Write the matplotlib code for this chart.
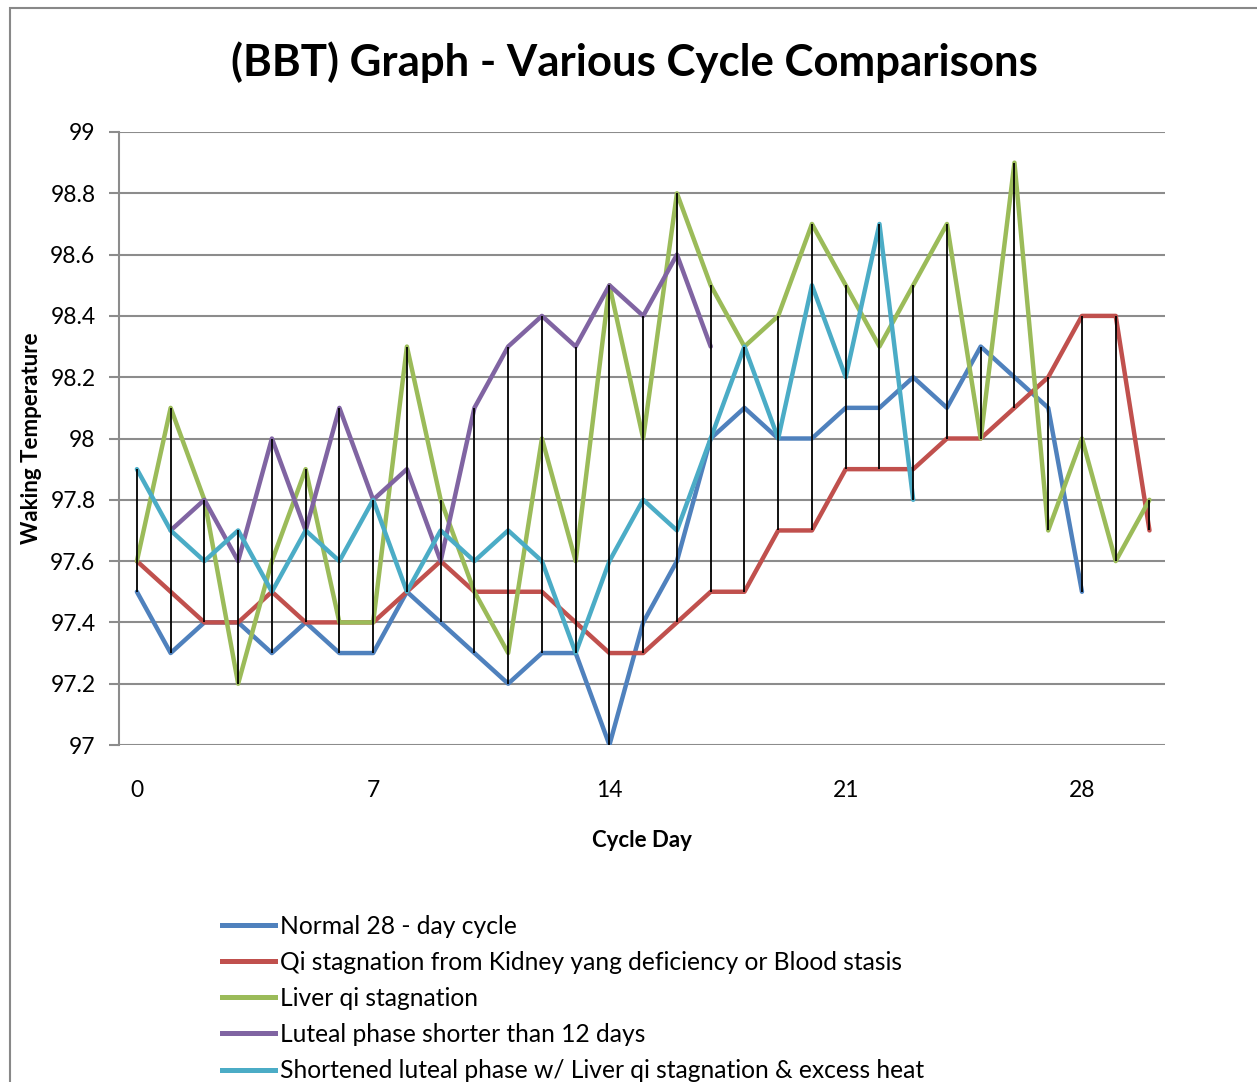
import numpy as np
import matplotlib
matplotlib.use("Agg")
import matplotlib.pyplot as plt
from matplotlib.lines import Line2D
from matplotlib.patches import Rectangle

plt.rcParams['font.family'] = ['Lato', 'DejaVu Sans']

days = list(range(31))
N = None
normal = [97.5, 97.3, 97.4, 97.4, 97.3, 97.4, 97.3, 97.3, 97.5, 97.4,
          97.3, 97.2, 97.3, 97.3, 97.0, 97.4, 97.6, 98.0, 98.1, 98.0,
          98.0, 98.1, 98.1, 98.2, 98.1, 98.3, 98.2, 98.1, 97.5, N, N]
kidney = [97.6, 97.5, 97.4, 97.4, 97.5, 97.4, 97.4, 97.4, 97.5, 97.6,
          97.5, 97.5, 97.5, 97.4, 97.3, 97.3, 97.4, 97.5, 97.5, 97.7,
          97.7, 97.9, 97.9, 97.9, 98.0, 98.0, 98.1, 98.2, 98.4, 98.4, 97.7]
liver = [97.6, 98.1, 97.8, 97.2, 97.6, 97.9, 97.4, 97.4, 98.3, 97.8,
         97.5, 97.3, 98.0, 97.6, 98.5, 98.0, 98.8, 98.5, 98.3, 98.4,
         98.7, 98.5, 98.3, 98.5, 98.7, 98.0, 98.9, 97.7, 98.0, 97.6, 97.8]
luteal = [N, 97.7, 97.8, 97.6, 98.0, 97.7, 98.1, 97.8, 97.9, 97.6,
          98.1, 98.3, 98.4, 98.3, 98.5, 98.4, 98.6, 98.3, N, N,
          N, N, N, N, N, N, N, N, N, N, N]
short_heat = [97.9, 97.7, 97.6, 97.7, 97.5, 97.7, 97.6, 97.8, 97.5, 97.7,
              97.6, 97.7, 97.6, 97.3, 97.6, 97.8, 97.7, 98.0, 98.3, 98.0,
              98.5, 98.2, 98.7, 97.8, N, N, N, N, N, N, N]

labels = ["Normal 28 - day cycle",
          "Qi stagnation from Kidney yang deficiency or Blood stasis",
          "Liver qi stagnation",
          "Luteal phase shorter than 12 days",
          "Shortened luteal phase w/ Liver qi stagnation & excess heat"]
colors = ["#4F81BD", "#C0504D", "#9BBB59", "#8064A2", "#4BACC6"]
series = [normal, kidney, liver, luteal, short_heat]

xticks = [0, 7, 14, 21, 28]
yticks = [97, 97.2, 97.4, 97.6, 97.8, 98, 98.2, 98.4, 98.6, 98.8, 99]
ytick_labels = ["97", "97.2", "97.4", "97.6", "97.8", "98", "98.2", "98.4", "98.6", "98.8", "99"]

fig = plt.figure(figsize=(12.57, 10.82), dpi=100)
fig.patches.append(Rectangle((10/1257, -0.01), 1.2, 1 - 8/1082 + 0.01,
                             transform=fig.transFigure, fill=False,
                             edgecolor="#888888", linewidth=1.5))
ax = fig.add_axes([119/1257, 1 - 745/1082, (1165 - 119)/1257, (745 - 132)/1082])

arr = np.array([[np.nan if v is None else v for v in s] for s in series], dtype=float)
x = np.array(days)
for s, c in zip(arr, colors):
    ax.plot(x, s, color=c, lw=3.2, solid_joinstyle='round', solid_capstyle='round', zorder=3)

hi = np.nanmax(arr, axis=0)
lo = np.nanmin(arr, axis=0)
ax.vlines(x, lo, hi, color="black", lw=1.3, zorder=4)

ax.set_xlim(-0.53, 30.46)
ax.set_ylim(97, 99)
ax.set_xticks(xticks)
ax.set_yticks(yticks)
ax.set_yticklabels(ytick_labels)
ax.grid(axis='y', color="#8c8c8c", lw=1.5, zorder=0)
ax.set_axisbelow(True)
for sp in ["top", "right", "bottom"]:
    ax.spines[sp].set_visible(False)
ax.spines["left"].set_color("#8c8c8c")
ax.spines["left"].set_linewidth(1.5)
ax.tick_params(axis='y', length=7, width=1.5, color="#8c8c8c", labelsize=16.5, pad=10)
ax.tick_params(axis='x', length=0, labelsize=16.5, pad=25)

ax.set_xlabel("Cycle Day", fontsize=16, fontweight='bold', labelpad=21)
fig.text(32/1257, 1 - 438/1082, "Waking Temperature", rotation=90, fontsize=16,
         fontweight='bold', ha='center', va='center')
fig.text(634/1257, 1 - 62/1082, "(BBT) Graph - Various Cycle Comparisons",
         fontsize=31.5, fontweight='bold', ha='center', va='center')

handles = [Line2D([], [], color=c, lw=3.6) for c in colors]
fig.legend(handles, labels, loc='upper left', bbox_to_anchor=(222/1257, 1 - 915/1082),
           frameon=False, fontsize=17.7, handlelength=2.15, handletextpad=0.2,
           labelspacing=0.53, borderaxespad=0, borderpad=0)

fig.savefig("out.png", dpi=100)
